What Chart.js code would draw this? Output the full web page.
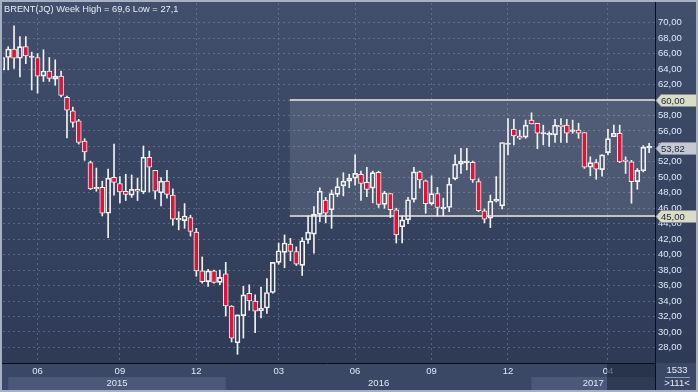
<!DOCTYPE html>
<html>
<head>
<meta charset="utf-8">
<title>BRENT(JQ) Week</title>
<script src="https://cdn.jsdelivr.net/npm/chart.js@4.4.1/dist/chart.umd.min.js"></script>
<style>
  html, body { margin: 0; padding: 0; background: #2f3b57; }
  #wrap { width: 698px; height: 392px; }
</style>
</head>
<body>
<div id="wrap"><canvas id="chart" width="698" height="392"></canvas></div>
<script>
// weekly candles (oldest first)
const opens = [
  63.9, 65.5, 66.6, 65.4, 66.9, 65.5, 65.5, 63.1, 63.75, 62.7,
  63.1, 60.35, 58.6, 57.3, 54.7, 51.9, 48.5, 48.7, 45.35, 50.0,
  49.2, 48.2, 47.7, 48.45, 48.1, 52.6, 50.9, 48.0, 49.5, 47.7,
  44.5, 44.4, 44.8, 42.9, 37.9, 36.5, 37.9, 36.4, 37.5, 33.35,
  28.6, 32.1, 35.0, 34.0, 32.75, 33.1, 35.1, 39.0, 40.3, 41.35,
  40.4, 38.6, 41.9, 42.65, 45.2, 47.05, 45.8, 47.8, 48.9, 49.5,
  49.9, 50.4, 49.35, 48.6, 50.65, 46.5, 47.9, 45.8, 43.6, 44.5,
  47.15, 50.7, 49.55, 46.6, 47.9, 45.95, 46.1, 49.8, 51.7, 51.9,
  51.95, 49.45, 45.65, 44.7, 46.9, 46.3, 54.25, 56.25, 55.35, 55.2,
  57.4, 57.0, 55.6, 55.5, 55.5, 56.75, 56.75, 55.95, 56.1, 55.8,
  51.3, 51.9, 51.0, 53.2, 55.25, 55.7, 52.15, 52.0, 49.45, 50.85, 53.8
];
const highs = [
  65.6, 66.9, 69.6, 68.2, 68.2, 66.2, 66.0, 66.5, 65.5, 65.2,
  63.75, 60.5, 59.1, 57.5, 55.0, 52.1, 51.2, 49.5, 51.05, 54.3,
  50.1, 50.4, 50.3, 49.9, 54.05, 53.4, 50.9, 49.95, 50.9, 48.5,
  45.55, 46.6, 45.1, 43.4, 39.7, 38.1, 38.0, 38.0, 39.0, 33.4,
  32.2, 35.9, 36.1, 34.8, 35.8, 36.9, 39.0, 41.5, 42.55, 42.1,
  41.0, 42.2, 45.0, 46.2, 48.65, 47.4, 48.35, 49.9, 50.6, 50.4,
  52.9, 50.8, 51.3, 50.8, 50.8, 48.2, 47.9, 46.0, 45.0, 47.4,
  51.3, 50.8, 49.65, 50.2, 48.7, 47.3, 49.9, 52.9, 53.75, 53.75,
  52.1, 49.8, 45.9, 47.7, 50.1, 54.5, 57.6, 57.5, 56.1, 57.4,
  58.35, 57.0, 56.75, 55.9, 57.5, 57.6, 57.5, 57.4, 57.0, 55.8,
  52.65, 52.3, 52.9, 56.2, 56.75, 56.75, 52.65, 52.2, 51.15, 54.1, 54.4
];
const lows = [
  63.5, 63.9, 64.1, 63.0, 64.7, 61.3, 60.9, 62.4, 62.4, 61.9,
  60.4, 55.1, 56.5, 54.3, 52.2, 48.4, 48.2, 45.0, 42.2, 47.7,
  46.7, 47.0, 47.4, 47.0, 47.9, 48.1, 47.2, 46.3, 47.3, 43.8,
  43.2, 43.4, 42.4, 37.2, 36.3, 35.9, 36.3, 36.1, 32.05, 28.7,
  27.1, 29.2, 32.8, 29.9, 31.8, 32.4, 35.0, 38.75, 38.3, 39.2,
  38.6, 37.3, 41.45, 40.2, 44.25, 44.1, 43.4, 47.5, 47.6, 48.65,
  49.0, 47.0, 47.5, 46.7, 46.1, 46.0, 44.8, 41.5, 41.5, 44.0,
  46.8, 48.6, 45.35, 46.4, 45.0, 45.0, 45.55, 49.65, 50.5, 50.95,
  49.35, 45.55, 44.1, 43.5, 46.8, 45.9, 52.9, 54.2, 54.9, 55.05,
  56.9, 53.7, 54.2, 54.0, 54.5, 54.5, 54.5, 55.7, 55.05, 51.15,
  50.2, 49.75, 50.15, 52.9, 55.25, 51.9, 50.5, 46.65, 48.45, 50.7, 53.2
];
const closes = [
  65.5, 66.6, 65.4, 66.9, 65.7, 65.6, 63.1, 63.75, 62.8, 63.1,
  60.6, 58.7, 57.1, 54.5, 53.3, 48.5, 48.65, 45.35, 49.9, 49.35,
  48.1, 47.8, 48.45, 48.2, 52.6, 51.3, 48.2, 49.5, 47.8, 44.6,
  44.7, 45.0, 43.0, 37.9, 36.5, 37.9, 36.4, 37.05, 33.35, 29.2,
  32.2, 34.8, 34.0, 32.7, 33.05, 35.1, 39.0, 40.5, 41.5, 40.4,
  38.75, 41.8, 42.9, 45.2, 48.2, 45.35, 47.9, 48.8, 49.5, 49.9,
  50.5, 49.2, 48.45, 50.6, 46.5, 48.0, 45.8, 42.55, 44.5, 47.1,
  50.7, 49.65, 46.6, 47.9, 46.1, 46.05, 49.1, 51.7, 52.1, 51.95,
  49.65, 45.7, 44.6, 46.9, 47.2, 54.5, 54.35, 55.35, 55.05, 56.75,
  56.9, 55.7, 55.65, 55.6, 56.75, 56.55, 55.7, 56.0, 55.7, 51.3,
  51.9, 51.05, 52.9, 55.0, 55.7, 52.0, 52.05, 49.45, 50.9, 53.9, 53.82
];

// axis labels (month ticks sit on candle indexes)
const monthTicks = [6, 20, 33, 47, 60, 73, 86, 103];
const monthLabels = ['06', '09', '12', '03', '06', '09', '12', '04'];
const yearLabels = ['2015', '2016', '2017'];
const yearStarts = [1, 38, 90];
const yearEnds = [38, 90, 111];
const priceTicks = [28, 30, 32, 34, 36, 38, 40, 42, 44, 46, 48, 50, 52, 54, 56, 58, 60, 62, 64, 66, 68, 70];

// channel drawn on the chart
const rangeHigh = 60;
const rangeLow = 45;
const rangeStart = 48.9;
const lastPrice = 53.82;

const FONT = "'Liberation Sans', Arial, sans-serif";
const fmt = v => v.toFixed(2).replace('.', ',');

const idx = opens.map((_, i) => i);
const bodies = idx.map(i => ({ x: i, y: [opens[i], closes[i]] }));
const upperWicks = idx.map(i => ({ x: i, y: [Math.max(opens[i], closes[i]), highs[i]] }));
const lowerWicks = idx.map(i => ({ x: i, y: [lows[i], Math.min(opens[i], closes[i])] }));
const bodyColors = idx.map(i => closes[i] < opens[i] ? '#dc143c' : 'rgba(0,0,0,0)');

const bgPlugin = {
  id: 'bg',
  beforeDraw(chart) {
    const { ctx, chartArea: a, width, height } = chart;
    const x = chart.scales.x;
    ctx.save();
    const g = ctx.createLinearGradient(0, a.top, 0, a.bottom);
    g.addColorStop(0, '#414f6c');
    g.addColorStop(1, '#2e3a56');
    ctx.fillStyle = g;
    ctx.fillRect(0, 0, width, a.bottom);
    ctx.fillStyle = '#3b4865';
    ctx.fillRect(0, a.bottom, width, height - a.bottom);
    ctx.fillStyle = '#4b5877';
    yearStarts.forEach((s, i) => {
      if (i % 2) return;
      const x0 = Math.max(x.getPixelForValue(s), a.left);
      const x1 = Math.min(x.getPixelForValue(yearEnds[i]), a.right);
      ctx.fillRect(x0, a.bottom + 14, x1 - x0, 13);
    });
    ctx.restore();
  },
  beforeDatasetsDraw(chart) {
    const { ctx, chartArea: a } = chart;
    const x = chart.scales.x, y = chart.scales.y;
    const x0 = x.getPixelForValue(rangeStart);
    const yt = y.getPixelForValue(rangeHigh);
    const yb = y.getPixelForValue(rangeLow);
    ctx.save();
    ctx.fillStyle = 'rgba(255,255,255,0.11)';
    ctx.fillRect(x0, yt, a.right - x0, yb - yt);
    ctx.strokeStyle = '#c2c2c2';
    ctx.lineWidth = 2;
    ctx.beginPath();
    ctx.moveTo(x0, yt); ctx.lineTo(a.right, yt);
    ctx.moveTo(x0, yb); ctx.lineTo(a.right, yb);
    ctx.stroke();
    ctx.restore();
  },
  afterDraw(chart) {
    const { ctx, chartArea: a, width, height } = chart;
    const x = chart.scales.x, y = chart.scales.y;
    ctx.save();

    // year row
    ctx.font = '9.5px ' + FONT;
    ctx.fillStyle = '#dfe8f8';
    ctx.textAlign = 'center';
    ctx.textBaseline = 'middle';
    yearLabels.forEach((t, i) => {
      const cx = (x.getPixelForValue(yearStarts[i]) + x.getPixelForValue(yearEnds[i])) / 2;
      ctx.fillText(t, cx, a.bottom + 20.5);
    });

    // dark scroller block at the right end of the time axis
    ctx.fillStyle = 'rgba(30,40,62,0.62)';
    ctx.fillRect(607, a.bottom, a.right - 607, height - a.bottom);

    // corner counters
    ctx.fillStyle = '#e4ebf8';
    ctx.fillText('1533', a.right + 22, a.bottom + 7.5);
    ctx.fillText('>111<', a.right + 22, a.bottom + 20.5);
    ctx.strokeStyle = '#8e9ab2';
    ctx.lineWidth = 1;
    ctx.beginPath();
    ctx.moveTo(a.right + 10, a.bottom + 14.5);
    ctx.lineTo(a.right + 35, a.bottom + 14.5);
    ctx.stroke();

    // axis frame lines
    ctx.strokeStyle = '#0b0e16';
    ctx.beginPath();
    ctx.moveTo(a.right + 0.5, 0); ctx.lineTo(a.right + 0.5, height);
    ctx.moveTo(0, a.bottom + 0.5); ctx.lineTo(a.right, a.bottom + 0.5);
    ctx.stroke();

    // price tags on the right axis
    const tag = (v, fill) => {
      const py = Math.round(y.getPixelForValue(v)) + 0.5;
      const x0 = a.right + 1;
      ctx.beginPath();
      ctx.moveTo(x0, py);
      ctx.lineTo(x0 + 5, py - 6);
      ctx.lineTo(width - 1, py - 6);
      ctx.lineTo(width - 1, py + 6);
      ctx.lineTo(x0 + 5, py + 6);
      ctx.closePath();
      ctx.fillStyle = fill;
      ctx.fill();
      ctx.strokeStyle = '#8a8f9a';
      ctx.stroke();
      ctx.fillStyle = '#1b2640';
      ctx.textAlign = 'left';
      ctx.fillText(fmt(v), x0 + 5, py + 0.5);
    };
    tag(rangeHigh, '#dadcc3');
    tag(rangeLow, '#dadcc3');
    tag(lastPrice, '#c4c9d3');

    // title
    ctx.font = '9.3px ' + FONT;
    ctx.fillStyle = '#e6ecf6';
    ctx.textAlign = 'left';
    ctx.fillText('BRENT(JQ) Week High = ' + Math.max(...highs).toFixed(1).replace('.', ',') +
      ' Low = ' + Math.min(...lows).toFixed(1).replace('.', ','), 4, 9);

    // outer frame
    ctx.strokeStyle = '#a7b0c2';
    ctx.lineWidth = 2;
    ctx.strokeRect(1, 1, width - 2, height - 2);
    ctx.restore();
  }
};

new Chart(document.getElementById('chart'), {
  type: 'bar',
  data: {
    datasets: [
      {
        data: bodies,
        backgroundColor: bodyColors,
        borderColor: '#f2f2f2',
        borderWidth: 1,
        borderSkipped: false,
        barThickness: 5,
        minBarLength: 1.5,
        grouped: false,
        order: 0
      },
      {
        data: upperWicks,
        backgroundColor: '#f2f2f2',
        barThickness: 1,
        grouped: false,
        order: 1
      },
      {
        data: lowerWicks,
        backgroundColor: '#f2f2f2',
        barThickness: 1,
        grouped: false,
        order: 1
      }
    ]
  },
  options: {
    responsive: false,
    devicePixelRatio: 1,
    animation: false,
    events: [],
    layout: { padding: { left: 3, top: 3, right: 0, bottom: 0 } },
    plugins: { legend: { display: false }, tooltip: { enabled: false } },
    scales: {
      x: {
        type: 'linear',
        offset: false,
        min: 0.12,
        max: 111,
        afterBuildTicks: s => { s.ticks = monthTicks.map(v => ({ value: v })); },
        afterFit: s => { s.height = 29; s.paddingLeft = 0; s.paddingRight = 0; },
        ticks: {
          callback: (v, i) => monthLabels[i],
          color: '#dfe8f8',
          font: { size: 9.5, family: FONT },
          padding: 3,
          maxRotation: 0,
          autoSkip: false
        },
        grid: { color: 'rgba(125,140,170,0.5)', drawTicks: false, offset: false },
        border: { display: false, dash: [2, 3] }
      },
      y: {
        position: 'right',
        min: 25.98,
        max: 72.55,
        afterBuildTicks: s => { s.ticks = priceTicks.map(v => ({ value: v })); },
        afterFit: s => { s.width = 43; s.paddingTop = 0; s.paddingBottom = 0; },
        ticks: {
          callback: v => fmt(v),
          color: '#dfe8f8',
          font: { size: 9.5, family: FONT },
          padding: 3
        },
        grid: { color: 'rgba(125,140,170,0.5)', drawTicks: false },
        border: { display: false, dash: [2, 3] }
      }
    }
  },
  plugins: [bgPlugin]
});
</script>
</body>
</html>
